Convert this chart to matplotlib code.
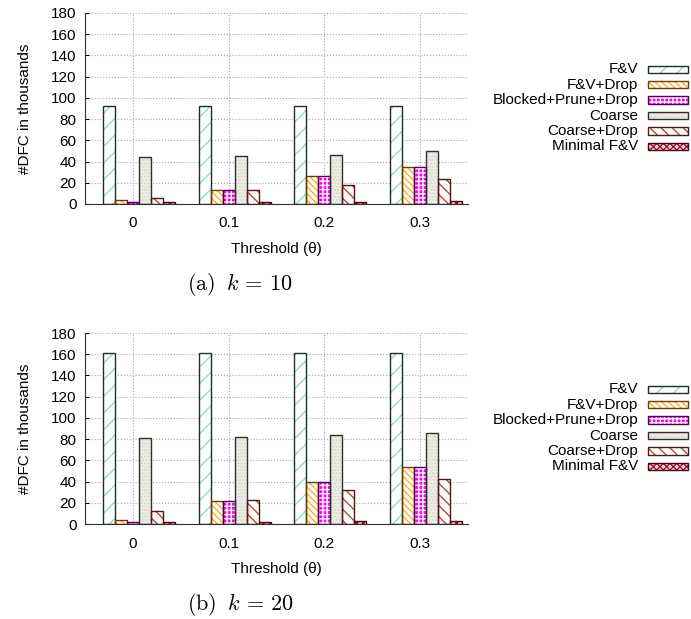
import numpy as np
import matplotlib
matplotlib.use('Agg')
import matplotlib.pyplot as plt
from matplotlib.patches import Rectangle

plt.rcParams['font.family'] = ['Liberation Sans', 'DejaVu Sans']
plt.rcParams['mathtext.fontset'] = 'cm'
plt.rcParams['hatch.linewidth'] = 1.0

thresholds = ['0', '0.1', '0.2', '0.3']
series_names = ['F&V', 'F&V+Drop', 'Blocked+Prune+Drop', 'Coarse',
                'Coarse+Drop', 'Minimal F&V']

# k = 10, #DFC in thousands
k10_fv = [92, 92, 92, 92]
k10_fv_drop = [4, 13, 26, 35]
k10_blocked = [2, 13, 26, 35]
k10_coarse = [44.5, 45.5, 46.5, 49.5]
k10_coarse_drop = [6, 13, 18, 23.5]
k10_minimal = [2, 2, 2, 2.5]

# k = 20, #DFC in thousands
k20_fv = [161, 161, 161, 161]
k20_fv_drop = [4, 22, 39.5, 54]
k20_blocked = [2, 22, 39.5, 53.5]
k20_coarse = [81, 82, 83.5, 86]
k20_coarse_drop = [12.5, 23, 32, 42]
k20_minimal = [1.5, 2, 2.5, 2.5]

# (face, hatch colour, hatch, outline)
STYLES = [
    ('white', '#9ed6c6', '//', '#1e2e28'),
    ('white', '#ffb020', '\\\\\\\\\\', '#6a4000'),
    ('#ff00ff', 'white', '++++', '#500050'),
    ('#eeeee6', '#d6d6cc', '.....', '#303030'),
    ('white', '#b04a3a', '\\\\\\', '#501818'),
    ('#f4d8dc', '#9a1434', 'xxxxx', '#500010'),
]

W, H = 691, 619
BAR_W = 0.125


def draw_panel(fig, top_px, series, caption):
    ax = fig.add_axes([85 / W, 1 - (top_px + 191) / H, 383 / W, 191 / H])
    pos = np.arange(len(thresholds))
    for i, vals in enumerate(series):
        face, hcol, hatch, edge = STYLES[i]
        x = pos + (i - 2) * BAR_W
        ax.bar(x, vals, BAR_W, color=face, edgecolor=hcol, hatch=hatch,
               linewidth=0, zorder=2)
        ax.bar(x, vals, BAR_W, fill=False, edgecolor=edge, linewidth=1.0,
               zorder=3)
    ax.set_xlim(-0.5, 3.5)
    ax.set_ylim(0, 180)
    ax.set_yticks(np.arange(0, 181, 20))
    ax.set_xticks(pos)
    ax.set_xticklabels(thresholds)
    ax.tick_params(axis='x', length=0, pad=9, labelsize=11)
    ax.tick_params(axis='y', direction='in', length=3, labelsize=11, pad=6)
    ax.grid(True, linestyle=':', color='#a8a8a8', linewidth=0.8)
    ax.set_axisbelow(True)
    for s in ['top', 'right']:
        ax.spines[s].set_visible(False)
    ax.spines['left'].set_color('#303030')
    ax.spines['bottom'].set_color('#303030')
    ax.set_xlabel('Threshold (θ)', fontsize=11, labelpad=8)
    ax.set_ylabel('#DFC in thousands', fontsize=11, labelpad=14)

    # legend: labels right aligned, swatch after the text
    for i, name in enumerate(series_names):
        face, hcol, hatch, edge = STYLES[i]
        yc = top_px + 56.3 + 15.4 * i
        fig.text(638 / W, 1 - yc / H, name, ha='right', va='center',
                 fontsize=11)
        y0 = 1 - (yc + 3.7) / H
        fig.add_artist(Rectangle((648 / W, y0), 40 / W, 7.4 / H,
                                 transform=fig.transFigure, facecolor=face,
                                 edgecolor=hcol, hatch=hatch, linewidth=0))
        fig.add_artist(Rectangle((648 / W, y0), 40 / W, 7.4 / H,
                                 transform=fig.transFigure, fill=False,
                                 edgecolor=edge, linewidth=1.0))

    fig.text(240 / W, 1 - (top_px + 272) / H, caption, ha='center',
             va='center', fontsize=16)
    return ax


fig = plt.figure(figsize=(W / 100, H / 100), dpi=100)
draw_panel(fig, 13, [k10_fv, k10_fv_drop, k10_blocked, k10_coarse,
                     k10_coarse_drop, k10_minimal],
           r'$\mathrm{(a)}\;\; k\, =\, 10$')
draw_panel(fig, 333, [k20_fv, k20_fv_drop, k20_blocked, k20_coarse,
                      k20_coarse_drop, k20_minimal],
           r'$\mathrm{(b)}\;\; k\, =\, 20$')
fig.savefig('out.png', dpi=100)
